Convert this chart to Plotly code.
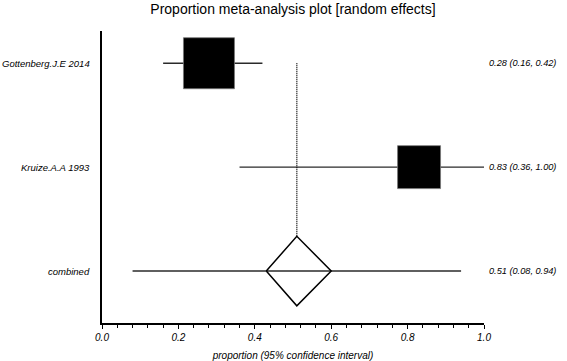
import plotly.graph_objects as go

# ---- data ----
studies = ["Gottenberg.J.E 2014", "Kruize.A.A 1993"]
est = [0.28, 0.83]
lower = [0.16, 0.36]
upper = [0.42, 1.00]
weights = [58.5, 41.5]          # relative study weights (box area)

pooled_label = "combined"
pooled_est = 0.51
pooled_lower = 0.08
pooled_upper = 0.94
diamond_lower = 0.43
diamond_upper = 0.60

x_ticks = [0.0, 0.2, 0.4, 0.6, 0.8, 1.0]
x_tick_labels = ["0.0", "0.2", "0.4", "0.6", "0.8", "1.0"]

# ---- styles ----
FONT = "Liberation Sans, Arial, Helvetica, sans-serif"
row_y = list(range(len(studies)))
pooled_y = len(studies)
box_scale = 51 / (58.5 ** 0.5)
sizes = [box_scale * (w ** 0.5) for w in weights]
dh = 0.335

fig = go.Figure()

# study CIs + boxes
fig.add_trace(go.Scatter(
    x=est, y=row_y, mode="markers",
    marker=dict(symbol="square", size=sizes, color="black", opacity=1,
                line=dict(color="#777777", width=0.8)),
    error_x=dict(type="data", symmetric=False,
                 array=[u - e for u, e in zip(upper, est)],
                 arrayminus=[e - l for e, l in zip(est, lower)],
                 color="#2a2a2a", thickness=1.4, width=0),
    hoverinfo="skip", showlegend=False, cliponaxis=False))

# pooled CI line
fig.add_trace(go.Scatter(
    x=[pooled_lower, pooled_upper], y=[pooled_y, pooled_y], mode="lines",
    line=dict(color="#2a2a2a", width=1.4),
    hoverinfo="skip", showlegend=False))

# dotted vertical line at pooled estimate
fig.add_trace(go.Scatter(
    x=[pooled_est, pooled_est], y=[row_y[0], pooled_y - dh], mode="lines",
    line=dict(color="black", width=1.3, dash="1px,1px"),
    hoverinfo="skip", showlegend=False))

# diamond
fig.add_trace(go.Scatter(
    x=[diamond_lower, pooled_est, diamond_upper, pooled_est, diamond_lower],
    y=[pooled_y, pooled_y - dh, pooled_y, pooled_y + dh, pooled_y],
    mode="lines", line=dict(color="black", width=1.5),
    hoverinfo="skip", showlegend=False))

# labels
annotations = []
all_labels = studies + [pooled_label]
all_y = row_y + [pooled_y]
all_est = est + [pooled_est]
all_lo = lower + [pooled_lower]
all_hi = upper + [pooled_upper]
for name, y, e, lo, hi in zip(all_labels, all_y, all_est, all_lo, all_hi):
    annotations.append(dict(
        x=0, xref="paper", y=y, yref="y", text=name, showarrow=False,
        xanchor="right", yanchor="middle", xshift=-10,
        font=dict(family=FONT, size=9.5, color="black", style="italic")))
    annotations.append(dict(
        x=1, xref="paper", y=y, yref="y",
        text=f"{e:.2f} ({lo:.2f}, {hi:.2f})", showarrow=False,
        xanchor="right", yanchor="middle", xshift=74,
        font=dict(family=FONT, size=9.2, color="black", style="italic")))

fig.update_layout(
    width=567, height=361,
    margin=dict(l=102, r=83, t=31, b=38, autoexpand=False),
    paper_bgcolor="white", plot_bgcolor="white",
    title=dict(text="Proportion meta-analysis plot [random effects]",
               x=0.5, xref="paper", y=0.975, yref="container",
               xanchor="center", yanchor="middle",
               font=dict(family=FONT, size=14, color="black")),
    annotations=annotations,
    xaxis=dict(range=[0, 1], tickvals=x_ticks, ticktext=x_tick_labels,
               automargin=False,
               showgrid=False, zeroline=False, showline=True,
               linecolor="black", linewidth=1.5,
               ticks="outside", ticklen=4, tickwidth=1.2, tickcolor="black",
               minor=dict(dtick=0.04, ticks="outside", ticklen=3.5,
                          tickwidth=1, tickcolor="black"),
               tickfont=dict(family=FONT, size=10, color="black", style="italic"),
               title=dict(text="proportion (95% confidence interval)",
                          standoff=10,
                          font=dict(family=FONT, size=10, color="black", style="italic"))),
    yaxis=dict(range=[2.5, -0.31], showgrid=False, zeroline=False,
               automargin=False,
               showline=True, linecolor="black", linewidth=1.5,
               showticklabels=False, ticks=""),
)

fig.write_html("out.html", config={"displayModeBar": False},
               post_script="document.body.style.margin='0';")
